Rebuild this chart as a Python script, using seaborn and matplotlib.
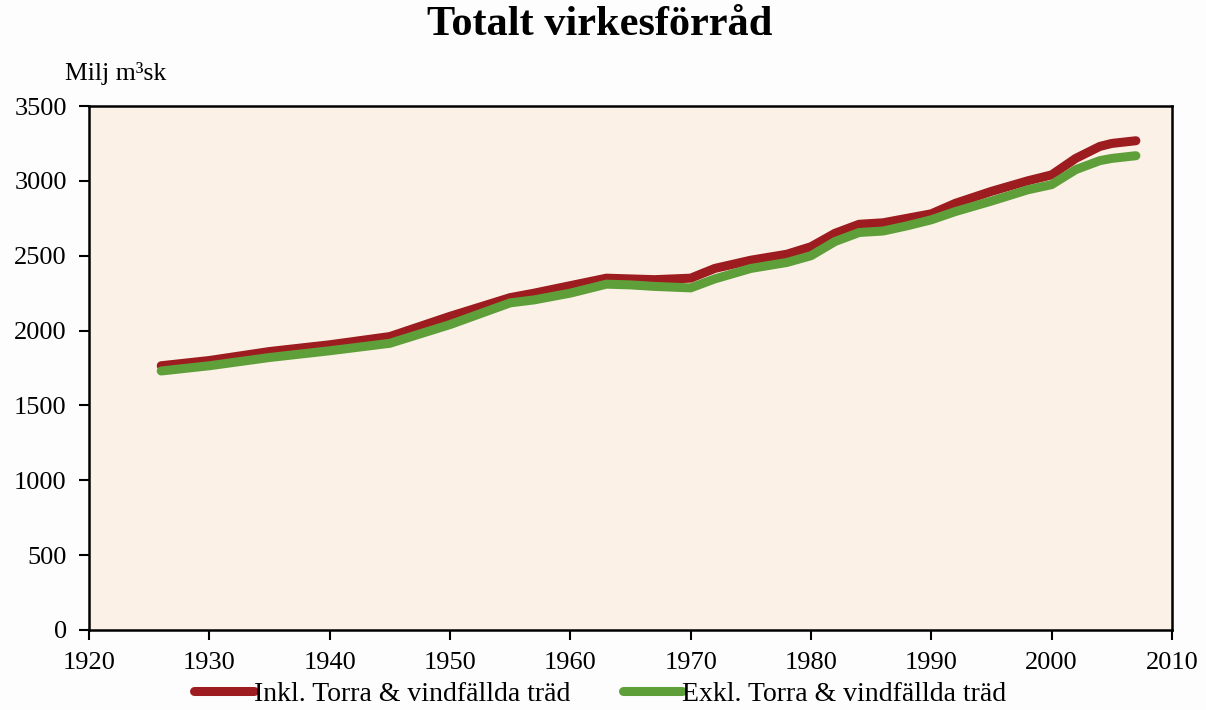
import pandas as pd
import numpy as np
import matplotlib
matplotlib.use('Agg')
import matplotlib.pyplot as plt
import seaborn as sns

# Values (Milj m3sk)
years = [1926, 1930, 1935, 1940, 1945, 1950, 1955, 1957, 1960, 1963, 1965, 1967,
         1970, 1972, 1975, 1978, 1980, 1982, 1984, 1986, 1988, 1990, 1992, 1995,
         1998, 2000, 2002, 2004, 2005, 2007]
inkl = [1765, 1800, 1860, 1905, 1960, 2095, 2220, 2250, 2300, 2350, 2345, 2340,
        2350, 2415, 2470, 2510, 2560, 2650, 2710, 2720, 2750, 2780, 2850, 2930,
        3000, 3040, 3150, 3230, 3250, 3268]
exkl = [1730, 1765, 1820, 1865, 1915, 2040, 2185, 2205, 2250, 2310, 2305, 2295,
        2285, 2345, 2415, 2455, 2500, 2595, 2655, 2665, 2700, 2740, 2795, 2865,
        2940, 2975, 3075, 3135, 3150, 3168]
series_names = ['Inkl. Torra & vindfällda träd', 'Exkl. Torra & vindfällda träd']
colors = ['#9c1c20', '#5f9f3a']

df = pd.DataFrame({'year': years + years,
                   'value': inkl + exkl,
                   'serie': [series_names[0]] * len(years) + [series_names[1]] * len(years)})

sns.set_style('ticks')
plt.rcParams['font.family'] = ['Liberation Serif', 'DejaVu Serif']
plt.rcParams['text.color'] = 'black'

fig = plt.figure(figsize=(12.06, 7.10), dpi=100)
fig.patch.set_facecolor('#fdfdfd')
ax = fig.add_axes([0.0738, 0.1127, 0.898, 0.738])
ax.set_facecolor('#fcf1e7')

sns.lineplot(data=df, x='year', y='value', hue='serie', palette=colors,
             linewidth=6.5, ax=ax, solid_capstyle='round', solid_joinstyle='round')

ax.set_xlim(1920, 2010)
ax.set_ylim(0, 3500)
ax.set_xticks(range(1920, 2011, 10))
ax.set_yticks(range(0, 3501, 500))
ax.set_xlabel('')
ax.set_ylabel('')
ax.tick_params(direction='out', length=7, width=1.5, labelsize=19, colors='black', pad=9)
for s in ax.spines.values():
    s.set_visible(True)
    s.set_linewidth(1.8)
    s.set_color('black')

fig.text(0.497, 0.951, 'Totalt virkesförråd', ha='center', va='baseline',
         fontsize=30.5, fontweight='bold', color='black')
fig.text(0.054, 0.887, 'Milj m³sk', ha='left', va='baseline', fontsize=18.5, color='black')

# legend below the axes, two entries side by side
leg = ax.legend(loc='upper center', bbox_to_anchor=(0.472, -0.071), ncol=2,
                frameon=False, fontsize=20, handlelength=2.15, handletextpad=0.0,
                columnspacing=1.9, borderpad=0.0)
for t in leg.get_texts():
    t.set_color('black')

fig.savefig('out.png', dpi=100, facecolor=fig.get_facecolor())
